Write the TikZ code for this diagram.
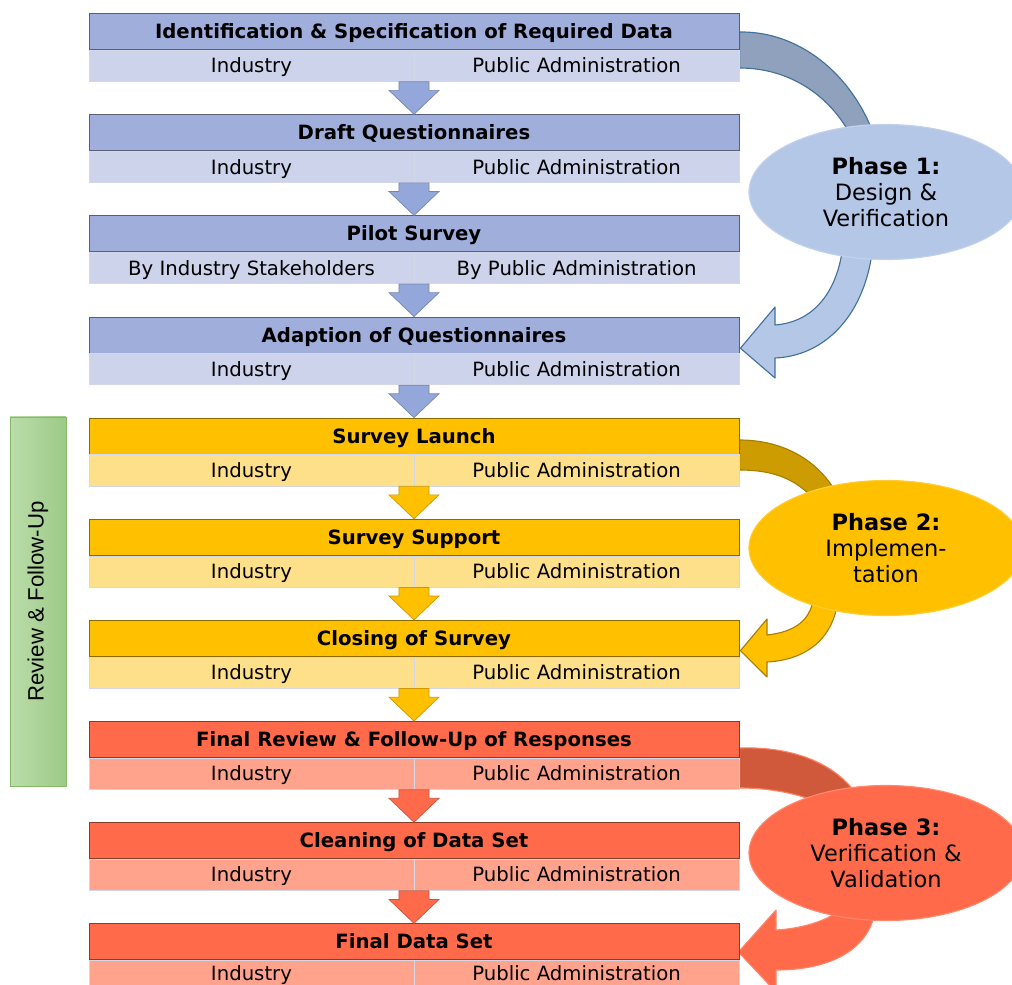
\documentclass[tikz,border=0pt]{standalone}
\usepackage{fontspec}
\setmainfont{DejaVu Sans}
\newfontfamily\arialfont{Liberation Sans}
\usetikzlibrary{positioning,shapes.geometric,calc,backgrounds}
\definecolor{bluT}{HTML}{A0AEDC}
\definecolor{bluS}{HTML}{CDD3EA}
\definecolor{bluA}{HTML}{94A7DA}
\definecolor{bluU}{HTML}{8FA1BC}
\definecolor{bluL}{HTML}{B4C7E7}
\definecolor{bluD}{HTML}{41719C}
\definecolor{orT}{HTML}{FFC000}
\definecolor{orS}{HTML}{FFE08A}
\definecolor{orU}{HTML}{CC9C00}
\definecolor{orD}{HTML}{A87E00}
\definecolor{rdT}{HTML}{FF6A4A}
\definecolor{rdS}{HTML}{FFA38D}
\definecolor{rdU}{HTML}{D0593B}
\definecolor{rdD}{HTML}{FF8466}
\definecolor{subline}{HTML}{D4D7E8}
\definecolor{grnL}{HTML}{BADDAA}
\definecolor{grnR}{HTML}{9DCA87}
\definecolor{grnD}{HTML}{86BA66}
\tikzset{
  ttl/.style={draw=#1!55!black, fill=#1, line width=0.5pt, minimum width=16.25cm, minimum height=0.9cm,
    inner sep=0pt, text height=2.2ex, text depth=0.35ex, font=\fontsize{14}{16}\selectfont\bfseries},
  sub/.style={draw=subline, fill=#1, line width=0.5pt, minimum width=8.125cm, minimum height=0.78cm,
    inner sep=0pt, text height=2.2ex, text depth=0.35ex, font=\fontsize{14}{16}\selectfont},
  dn/.style={draw=#1!80!black, fill=#1, line width=0.5pt},
  band/.style 2 args={draw=#2, fill=#1, line width=0.8pt, line join=round},
  phaseell/.style={ellipse, fill=#1, draw=#1!80!white, line width=0.8pt, minimum width=6.85cm,
    minimum height=3.375cm, inner sep=0pt, align=center, font=\fontsize{16}{18.5}\selectfont}
}
\newcommand\blkarrow[3]{%
  \draw[#1] let \p1=(#2), \p2=(#3) in
    (\x2-10.7pt,\y1) -- (\x2+10.7pt,\y1) -- (\x2+10.7pt,\y2+17pt) -- (\x2+17.8pt,\y2+17pt)
    -- (\x2,\y2) -- (\x2-17.8pt,\y2+17pt) -- (\x2-10.7pt,\y2+17pt) -- cycle;}
\begin{document}
\begin{tikzpicture}[x=0.025cm, y=-0.025cm]
  \useasboundingbox (0,0) rectangle (1012,985);

  \node (rv) [rotate=90, draw=grnD, left color=grnL, right color=grnR, minimum width=9.225cm,
    minimum height=1.4cm, font=\arialfont\fontsize{15.8}{18}\selectfont] at (38,601.5) {Review \& Follow-Up};

  \node (t1) [ttl=bluT] at (414,31.5) {Identification \& Specification of Required Data};
  \node (i1) [sub=bluS, anchor=north west] at (t1.south west) {Industry};
  \node (p1) [sub=bluS, anchor=north east] at (t1.south east) {Public Administration};
  \node (t2) [ttl=bluT, below=1.61cm of t1] {Draft Questionnaires};
  \node (i2) [sub=bluS, anchor=north west] at (t2.south west) {Industry};
  \node (p2) [sub=bluS, anchor=north east] at (t2.south east) {Public Administration};
  \node (t3) [ttl=bluT, below=1.61cm of t2] {Pilot Survey};
  \node (i3) [sub=bluS, anchor=north west] at (t3.south west) {By Industry Stakeholders};
  \node (p3) [sub=bluS, anchor=north east] at (t3.south east) {By Public Administration};
  \node (t4) [ttl=bluT, below=1.61cm of t3] {Adaption of Questionnaires};
  \node (i4) [sub=bluS, anchor=north west] at (t4.south west) {Industry};
  \node (p4) [sub=bluS, anchor=north east] at (t4.south east) {Public Administration};

  \node (t5) [ttl=orT, below=1.61cm of t4] {Survey Launch};
  \node (i5) [sub=orS, anchor=north west] at (t5.south west) {Industry};
  \node (p5) [sub=orS, anchor=north east] at (t5.south east) {Public Administration};
  \node (t6) [ttl=orT, below=1.61cm of t5] {Survey Support};
  \node (i6) [sub=orS, anchor=north west] at (t6.south west) {Industry};
  \node (p6) [sub=orS, anchor=north east] at (t6.south east) {Public Administration};
  \node (t7) [ttl=orT, below=1.61cm of t6] {Closing of Survey};
  \node (i7) [sub=orS, anchor=north west] at (t7.south west) {Industry};
  \node (p7) [sub=orS, anchor=north east] at (t7.south east) {Public Administration};

  \node (t8) [ttl=rdT, below=1.61cm of t7] {Final Review \& Follow-Up of Responses};
  \node (i8) [sub=rdS, anchor=north west] at (t8.south west) {Industry};
  \node (p8) [sub=rdS, anchor=north east] at (t8.south east) {Public Administration};
  \node (t9) [ttl=rdT, below=1.61cm of t8] {Cleaning of Data Set};
  \node (i9) [sub=rdS, anchor=north west] at (t9.south west) {Industry};
  \node (p9) [sub=rdS, anchor=north east] at (t9.south east) {Public Administration};
  \node (t10) [ttl=rdT, below=1.61cm of t9] {Final Data Set};
  \node (i10) [sub=rdS, text height=1.5ex, anchor=north west] at (t10.south west) {Industry};
  \node (p10) [sub=rdS, text height=1.5ex, anchor=north east] at (t10.south east) {Public Administration};

  \blkarrow{dn=bluA}{i1.south east}{t2.north}
  \blkarrow{dn=bluA}{i2.south east}{t3.north}
  \blkarrow{dn=bluA}{i3.south east}{t4.north}
  \blkarrow{dn=bluA}{i4.south east}{t5.north}
  \blkarrow{dn=orT}{i5.south east}{t6.north}
  \blkarrow{dn=orT}{i6.south east}{t7.north}
  \blkarrow{dn=orT}{i7.south east}{t8.north}
  \blkarrow{dn=rdT}{i8.south east}{t9.north}
  \blkarrow{dn=rdT}{i9.south east}{t10.north}

  \node (ph1) [phaseell=bluL] at (886,192) {\textbf{Phase 1:}\\Design \&\\Verification};
  \node (ph2) [phaseell=orT] at (886,548) {\textbf{Phase 2:}\\Implemen-\\tation};
  \node (ph3) [phaseell=rdT] at (886,853) {\textbf{Phase 3:}\\Verification \&\\Validation};

  \begin{scope}[on background layer]
    \draw[band={bluU}{bluD}] (t1.north east |- 0,32) .. controls (800,31) and (852,75) .. (874,135)
      -- (852,138) .. controls (832,98) and (792,68) .. (t1.north east |- 0,68) -- cycle;
    \draw[band={bluL}{bluD}] (873,245) .. controls (866,315) and (825,356) .. (775,358) -- (775,378)
      -- ($(t4.south east)+(1,-5)$) -- (775,307) -- (775,325) .. controls (815,322) and (838,290) .. (843,245) -- cycle;
    \draw[band={orU}{orD}] (t5.north east |- 0,440) .. controls (785,440) and (822,462) .. (840,500)
      -- (818,505) .. controls (800,480) and (775,470) .. (t5.north east |- 0,470) -- cycle;
    \draw[band={orT}{orD}] (838,600) .. controls (833,640) and (805,660) .. (767,662) -- (767,677)
      -- ($(t7.south east)+(1,-6)$) -- (767,619) -- (767,635) .. controls (795,632) and (810,620) .. (813,600) -- cycle;
    \draw[band={rdU}{rdD}] (t8.north east |- 0,748) .. controls (795,746) and (840,765) .. (860,800)
      -- (830,808) .. controls (805,795) and (775,788) .. (t8.north east |- 0,788) -- cycle;
    \draw[band={rdT}{rdD}] (875,912) .. controls (868,950) and (830,970) .. (776,970) -- (776,992)
      -- ($(t10.south east)+(-1,-8)$) -- (776,910) -- (776,930) .. controls (812,928) and (838,915) .. (845,905) -- cycle;
  \end{scope}
\end{tikzpicture}
\end{document}
